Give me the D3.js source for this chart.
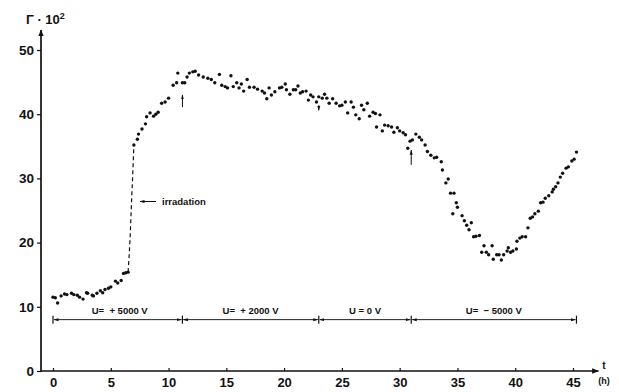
<!DOCTYPE html>
<html>
<head>
<meta charset="utf-8">
<script src="https://cdn.jsdelivr.net/npm/d3@7"></script>
<style>
  html, body { margin: 0; padding: 0; background: #fff; }
  svg { display: block; }
  text { font-family: "Liberation Sans", Arial, sans-serif; font-weight: bold; fill: #111; }
</style>
</head>
<body>
<svg id="chart" width="619" height="392"></svg>
<script>
// Measured Γ (×10²) over time t in hours
const timeH = [
  0.0, 0.2, 0.4, 0.7, 1.0, 1.2, 1.6, 1.8, 2.1, 2.3, 2.6, 2.9, 3.0, 3.4, 3.5, 3.8, 4.1, 4.3, 4.5, 4.8,
  5.0, 5.4, 5.6, 5.9, 6.1, 6.3, 6.5,
  7.0, 7.3, 7.4, 7.7, 8.0, 8.1, 8.4, 8.7, 8.9, 9.1, 9.4, 9.7, 10.0, 10.4, 10.7, 10.8, 11.2, 11.4,
  11.6, 11.8, 12.1, 12.3, 12.6, 13.0, 13.4, 13.7, 14.0, 14.4, 14.6, 14.9, 15.1, 15.4, 15.6, 15.9,
  16.1, 16.3, 16.5, 16.8, 17.0, 17.4, 17.7, 18.1, 18.3, 18.5, 18.7, 18.9, 19.2, 19.6, 19.8, 20.1,
  20.2, 20.5, 20.8, 21.0, 21.2, 21.4, 21.6, 21.9, 22.1, 22.3, 22.5, 22.8, 23.0, 23.3, 23.5, 23.7,
  23.9, 24.2, 24.5, 24.8, 25.0, 25.3, 25.5, 25.8, 26.0, 26.2, 26.5, 26.7, 26.9, 27.2, 27.4, 27.7,
  27.9, 28.0, 28.3, 28.5, 28.7, 29.0, 29.3, 29.5, 29.8, 30.0, 30.3, 30.5, 30.7, 30.9, 31.1, 31.4,
  31.7, 31.9, 32.2, 32.4, 32.7, 33.0, 33.2, 33.6, 33.7, 34.0, 34.2, 34.4, 34.6, 34.7, 34.9, 35.0,
  35.4, 35.6, 35.8, 36.0, 36.2, 36.4, 36.6, 36.9, 37.1, 37.3, 37.5, 37.7, 38.0, 38.1, 38.4, 38.6,
  38.8, 39.0, 39.3, 39.4, 39.6, 39.8, 40.1, 40.15, 40.4, 40.6, 40.9, 41.1, 41.3, 41.5, 41.7, 42.0,
  42.2, 42.4, 42.6, 42.9, 43.2, 43.3, 43.5, 43.7, 43.9, 44.1, 44.4, 44.6, 44.9, 45.1, 45.3
];
const gamma = [
  11.5, 11.4, 10.6, 11.7, 12.0, 11.9, 12.1, 11.9, 11.8, 11.5, 11.2, 12.2, 12.1, 11.8, 11.7, 12.1, 12.5, 12.2, 12.7, 12.9,
  13.1, 14.0, 13.7, 14.1, 15.2, 15.3, 15.4,
  35.2, 36.1, 36.9, 37.7, 38.5, 39.6, 40.2, 39.7, 40.0, 40.3, 41.7, 41.9, 42.5, 44.5, 44.9, 46.4, 44.9, 44.9,
  45.8, 46.4, 46.6, 46.7, 46.1, 45.8, 45.6, 45.4, 44.9, 46.2, 44.5, 44.3, 44.1, 46.0, 44.3, 44.9,
  44.1, 44.7, 43.6, 45.4, 44.2, 44.2, 43.9, 43.6, 43.3, 42.4, 44.1, 43.0, 43.5, 44.1, 44.2, 44.7,
  43.8, 43.1, 43.8, 43.8, 44.4, 43.3, 43.5, 43.6, 42.2, 43.0, 42.7, 41.9, 42.7, 42.5, 43.1, 42.5,
  41.7, 42.4, 41.7, 41.3, 41.4, 41.9, 40.2, 41.9, 41.1, 39.9, 39.3, 41.4, 40.7, 41.7, 39.7, 40.3,
  40.1, 38.0, 39.9, 37.4, 38.3, 38.2, 38.0, 37.2, 37.9, 37.4, 37.1, 36.8, 34.7, 35.8, 36.0, 36.9,
  36.4, 36.0, 35.2, 34.2, 33.6, 33.2, 33.3, 32.6, 31.3, 29.3, 29.9, 27.7, 24.5, 27.7, 26.2, 25.5,
  24.2, 23.4, 22.7, 22.0, 23.1, 20.9, 21.0, 21.1, 18.5, 19.5, 18.5, 18.1, 19.5, 17.4, 18.1, 18.1,
  17.3, 18.1, 18.7, 19.2, 18.5, 18.7, 19.0, 20.2, 20.7, 20.9, 20.9, 22.3, 23.8, 24.0, 24.5, 24.9,
  26.2, 26.3, 26.9, 27.3, 27.9, 28.3, 28.7, 29.3, 30.2, 30.8, 31.6, 31.8, 32.7, 33.0, 34.1
];

// Jump during irradiation, drawn dashed
const jumpTime  = [6.5, 6.65, 6.8, 6.92, 7.0];
const jumpGamma = [15.4, 20.0, 26.5, 31.5, 35.2];

// Applied voltage periods
const phaseStart = [0, 11.2, 23.0, 31.0];
const phaseEnd   = [11.2, 23.0, 31.0, 45.3];
const phaseLabel = ["U=  + 5000 V", "U=  + 2000 V", "U = 0 V", "U=  \u2212 5000 V"];
const phaseLevel = 8;

// Markers at the voltage switches
const switchTime = [11.2, 23.0, 31.0];
const switchLow  = [41.1, 40.6, 32.1];
const switchHigh = [43.0, 41.4, 34.4];

const xTicks = [0, 5, 10, 15, 20, 25, 30, 35, 40, 45];
const yTicks = [0, 10, 20, 30, 40, 50];

const svg = d3.select("#chart");
const x = d3.scaleLinear().domain([0, 45]).range([53, 573]);
const y = d3.scaleLinear().domain([0, 50]).range([371, 50]);

// Arrowheads
const defs = svg.append("defs");
defs.append("marker")
  .attr("id", "axArrow").attr("viewBox", "0 0 10 10")
  .attr("refX", 9).attr("refY", 5)
  .attr("markerWidth", 7).attr("markerHeight", 7)
  .attr("markerUnits", "userSpaceOnUse")
  .attr("orient", "auto")
  .append("path").attr("d", "M0,1 L10,5 L0,9 Z").attr("fill", "#111");
defs.append("marker")
  .attr("id", "smArrow").attr("viewBox", "0 0 10 10")
  .attr("refX", 9).attr("refY", 5)
  .attr("markerWidth", 5).attr("markerHeight", 5)
  .attr("markerUnits", "userSpaceOnUse")
  .attr("orient", "auto-start-reverse")
  .append("path").attr("d", "M0,2 L10,5 L0,8 Z").attr("fill", "#111");

// Axis lines
svg.append("line")
  .attr("x1", 41).attr("x2", 41)
  .attr("y1", y(0) + 1).attr("y2", y(53.1))
  .attr("stroke", "#111").attr("stroke-width", 1.7)
  .attr("marker-end", "url(#axArrow)");
svg.append("line")
  .attr("x1", 41).attr("x2", x(47.2))
  .attr("y1", y(0)).attr("y2", y(0))
  .attr("stroke", "#111").attr("stroke-width", 1.5)
  .attr("marker-end", "url(#axArrow)");

// Axes
const xAxis = d3.axisBottom(x).tickValues(xTicks).tickSizeInner(-3).tickSizeOuter(0).tickPadding(7);
const gx = svg.append("g").attr("transform", `translate(0,${y(0)})`).call(xAxis);
gx.select(".domain").remove();
gx.selectAll("line").attr("stroke", "#111").attr("stroke-width", 1.2);
gx.selectAll("text").attr("font-size", 13).attr("font-family", "Liberation Sans, Arial, sans-serif").attr("font-weight", "bold").attr("fill", "#111");

const yAxis = d3.axisLeft(y).tickValues(yTicks).tickSizeInner(4).tickSizeOuter(0).tickPadding(3);
const gy = svg.append("g").attr("transform", "translate(41,0)").call(yAxis);
gy.select(".domain").remove();
gy.selectAll("line").attr("stroke", "#111").attr("stroke-width", 1.2);
gy.selectAll("text").attr("font-size", 13.5).attr("font-family", "Liberation Sans, Arial, sans-serif").attr("font-weight", "bold").attr("fill", "#111");

// Axis titles
const yTitle = svg.append("text").attr("x", 26).attr("y", 24).attr("font-size", 13);
yTitle.append("tspan").text("\u0393 \u00B7 10");
yTitle.append("tspan").attr("dy", -5).attr("font-size", 9).text("2");

svg.append("text").attr("x", 604).attr("y", 369).attr("font-size", 10).attr("text-anchor", "middle").text("t");
svg.append("text").attr("x", 604).attr("y", 384).attr("font-size", 9).attr("text-anchor", "middle").text("(h)");

// Voltage periods
const phases = phaseStart.map((s, i) => ({ s, e: phaseEnd[i], label: phaseLabel[i] }));
const gp = svg.append("g");
gp.selectAll("line.span").data(phases).join("line")
  .attr("class", "span")
  .attr("x1", d => x(d.s) + 1).attr("x2", d => x(d.e) - 1)
  .attr("y1", y(phaseLevel)).attr("y2", y(phaseLevel))
  .attr("stroke", "#222").attr("stroke-width", 1)
  .attr("marker-start", "url(#smArrow)").attr("marker-end", "url(#smArrow)");
const bounds = [phaseStart[0]].concat(phaseEnd);
gp.selectAll("line.bound").data(bounds).join("line")
  .attr("class", "bound")
  .attr("x1", d => x(d)).attr("x2", d => x(d))
  .attr("y1", y(phaseLevel) - 4).attr("y2", y(phaseLevel) + 4)
  .attr("stroke", "#111").attr("stroke-width", 1.2);
gp.selectAll("text").data(phases).join("text")
  .attr("x", d => (x(d.s) + x(d.e)) / 2 + (d.s === 0 ? 2 : 0))
  .attr("y", y(phaseLevel) - 6)
  .attr("text-anchor", "middle").attr("font-size", 9.5)
  .style("white-space", "pre")
  .text(d => d.label);

// Switch markers on the curve
svg.append("g").selectAll("line").data(switchTime.map((t, i) => ({ t, lo: switchLow[i], hi: switchHigh[i], dir: i === 1 ? -1 : 1 })))
  .join("line")
  .attr("x1", d => x(d.t)).attr("x2", d => x(d.t))
  .attr("y1", d => d.dir > 0 ? y(d.lo) : y(d.hi))
  .attr("y2", d => d.dir > 0 ? y(d.hi) : y(d.lo))
  .attr("stroke", "#111").attr("stroke-width", 1)
  .attr("marker-end", "url(#smArrow)");

// Irradiation jump
const jump = jumpTime.map((t, i) => [t, jumpGamma[i]]);
svg.append("path")
  .datum(jump)
  .attr("d", d3.line().x(d => x(d[0])).y(d => y(d[1])).curve(d3.curveMonotoneY))
  .attr("fill", "none").attr("stroke", "#111").attr("stroke-width", 1.2)
  .attr("stroke-dasharray", "4,3");

// Irradiation label
svg.append("line")
  .attr("x1", 156).attr("x2", 140).attr("y1", y(26.4)).attr("y2", y(26.4))
  .attr("stroke", "#111").attr("stroke-width", 1)
  .attr("marker-end", "url(#smArrow)");
svg.append("text").attr("x", 162).attr("y", y(26.4) + 3).attr("font-size", 9.5).text("irradation");

// Data points
const pts = timeH.map((t, i) => [t, gamma[i]]);
svg.append("g").selectAll("circle").data(pts).join("circle")
  .attr("cx", d => x(d[0])).attr("cy", d => y(d[1]))
  .attr("r", 1.7).attr("fill", "#111");
</script>
</body>
</html>
